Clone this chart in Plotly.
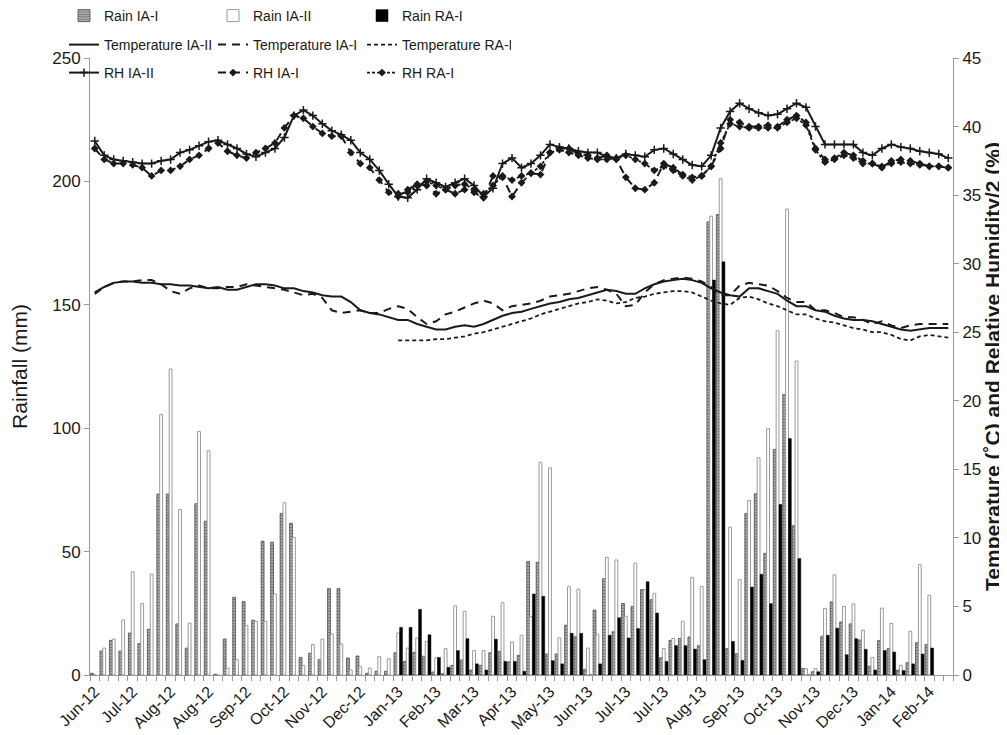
import plotly.graph_objects as go

# ---------------- data ----------------
month_labels = ["Jun-12", "Jul-12", "Aug-12", "Aug-12", "Sep-12", "Oct-12", "Nov-12", "Dec-12",
                "Jan-13", "Feb-13", "Mar-13", "Apr-13", "May-13", "Jun-13", "Jul-13", "Jul-13",
                "Aug-13", "Sep-13", "Oct-13", "Nov-13", "Dec-13", "Jan-14", "Feb-14"]
weeks = list(range(91))

rain_ia1 = [0.7, 9.7, 14.0, 9.7, 17.0, 12.7, 18.5, 73.3, 73.3, 20.7,
            10.9, 69.4, 62.3, 0.3, 14.6, 31.5, 29.7, 22.2, 54.2, 53.8,
            65.5, 61.5, 7.1, 8.8, 6.2, 35.0, 35.0, 6.9, 7.7, 0.7,
            1.5, 1.5, 9.0, 5.5, 9.2, 7.6, 1.2, 0.5, 3.9, 6.1,
            2.0, 3.9, 9.0, 9.6, 5.3, 8.0, 46.0, 45.7, 8.5, 8.5,
            20.2, 15.5, 2.3, 26.3, 39.0, 17.5, 29.0, 27.8, 34.6, 30.5,
            7.0, 14.0, 14.8, 15.4, 11.9, 183.6, 186.6, 10.7, 8.6, 65.4,
            73.4, 49.3, 91.4, 113.6, 60.5, 2.6, 1.3, 15.7, 29.6, 21.5,
            20.7, 14.2, 3.6, 13.9, 10.7, 2.0, 5.0, 13.1, 12.3, None, None]

rain_ia2 = [0, 10.9, 14.6, 22.3, 41.8, 29.0, 40.9, 105.5, 124.0, 67.0,
            21.0, 98.7, 90.9, 0, 2.8, 6.2, 20.1, 21.7, 21.7, 32.8,
            69.8, 55.8, 3.9, 12.3, 14.5, 16.6, 12.6, 2.0, 3.4, 2.8,
            7.4, 6.6, 17.0, 10.9, 15.0, 13.6, 6.9, 10.7, 28.0, 25.8,
            9.9, 9.9, 23.8, 29.3, 13.4, 16.1, 23.6, 86.2, 83.9, 15.0,
            35.8, 34.8, 10.9, 16.5, 47.7, 46.6, 23.8, 45.3, 34.6, 33.1,
            10.7, 14.8, 21.8, 39.6, 35.9, 185.9, 201.1, 59.9, 38.6, 70.7,
            88.0, 99.8, 139.5, 188.8, 127.2, 2.6, 2.6, 26.9, 40.6, 27.8,
            28.8, 18.2, 7.1, 27.1, 20.9, 3.9, 17.7, 44.7, 32.3, None, None]

rain_ra1 = [None] * 32 + [
            19.3, 19.3, 26.6, 16.3, 7.1, 3.1, 9.9, 14.7,
            4.5, 2.0, 14.5, 5.5, 5.5, 1.5, 32.8, 31.9, 5.8, 4.5,
            16.9, 16.9, 0, 4.5, 16.1, 23.2, 15.0, 18.8, 37.8, 25.1,
            5.5, 11.9, 11.9, 10.5, 6.2, 160.0, 167.4, 13.6, 5.9, 35.6,
            40.8, 28.9, 69.1, 95.8, 47.2, 0, 1.3, 16.1, 19.0, 8.2,
            14.7, 10.4, 2.0, 9.9, 9.3, 1.8, 4.5, 8.5, 10.9, None, None]

temp_ia2 = [27.9, 28.3, 28.6, 28.7, 28.7, 28.6, 28.6, 28.5, 28.5, 28.4,
            28.4, 28.3, 28.2, 28.3, 28.1, 28.1, 28.3, 28.5, 28.5, 28.4,
            28.2, 28.2, 28.0, 27.9, 27.7, 27.6, 27.6, 27.2, 26.6, 26.4,
            26.3, 26.1, 25.9, 25.9, 25.6, 25.4, 25.2, 25.2, 25.4, 25.5,
            25.4, 25.6, 25.9, 26.2, 26.4, 26.5, 26.7, 26.9, 27.1, 27.2,
            27.4, 27.5, 27.7, 27.9, 28.1, 28.0, 27.8, 27.8, 28.2, 28.5,
            28.7, 28.8, 28.9, 28.8, 28.6, 28.2, 27.9, 27.7, 27.6, 28.2,
            28.2, 28.0, 27.8, 27.3, 26.9, 26.9, 26.6, 26.5, 26.2, 26.0,
            25.9, 25.9, 25.8, 25.6, 25.4, 25.2, 25.1, 25.2, 25.3, 25.3, 25.3]

temp_ia1 = [27.8, 28.3, 28.6, 28.7, 28.7, 28.8, 28.8, 28.5, 28.0, 27.8,
            28.2, 28.4, 28.2, 28.2, 28.3, 28.3, 28.5, 28.4, 28.3, 28.2,
            28.1, 27.9, 27.7, 27.8, 27.5, 26.6, 26.4, 26.5, 26.6, 26.4,
            26.4, 26.7, 26.9, 26.7, 26.1, 25.6, 25.8, 26.3, 26.5, 26.8,
            27.1, 27.3, 27.1, 26.6, 26.9, 27.0, 27.1, 27.3, 27.6, 27.7,
            27.8, 28.0, 28.2, 28.3, 28.1, 27.8, 26.9, 27.0, 27.9, 28.5,
            28.8, 28.9, 29.0, 28.9, 28.7, 28.3, 27.7, 27.7, 28.4, 28.6,
            28.5, 28.4, 28.0, 27.5, 27.2, 27.2, 26.6, 26.6, 26.4, 26.1,
            26.1, 25.9, 25.6, 25.8, 25.5, 25.3, 25.5, 25.6, 25.6, 25.6, 25.6]

temp_ra1 = [None] * 32 + [
            24.4, 24.4, 24.4, 24.4, 24.5, 24.5, 24.6, 24.7,
            24.9, 25.0, 25.2, 25.4, 25.6, 25.8, 26.0, 26.3, 26.5, 26.7,
            26.9, 27.1, 27.2, 27.4, 27.3, 27.1, 27.2, 27.5, 27.6, 27.8,
            27.9, 28.0, 28.0, 27.9, 27.6, 27.3, 27.1, 27.0, 27.5, 27.6,
            27.4, 27.1, 26.9, 26.6, 26.3, 26.3, 26.0, 25.8, 25.7, 25.5,
            25.3, 25.2, 25.0, 25.0, 24.8, 24.5, 24.4, 24.7, 24.8, 24.7, 24.6]

rh_ia2 = [38.95, 37.9, 37.6, 37.5, 37.4, 37.3, 37.3, 37.5, 37.6, 38.1,
          38.3, 38.6, 38.9, 39.0, 38.7, 38.4, 38.0, 37.8, 38.1, 38.4,
          39.2, 40.8, 41.2, 40.8, 40.2, 39.7, 39.4, 39.0, 38.1, 37.6,
          36.8, 35.8, 34.9, 34.8, 35.4, 36.2, 35.9, 35.6, 35.9, 36.2,
          35.7, 34.9, 35.5, 37.3, 37.7, 37.0, 37.3, 37.9, 38.7, 38.5,
          38.4, 38.2, 38.1, 38.1, 37.8, 37.7, 38.0, 37.9, 37.8, 38.3,
          38.4, 38.0, 37.6, 37.2, 37.1, 37.9, 39.9, 41.1, 41.7, 41.3,
          41.0, 40.8, 40.9, 41.3, 41.7, 41.4, 40.0, 38.7, 38.7, 38.7,
          38.7, 38.1, 37.9, 38.4, 38.7, 38.5, 38.4, 38.2, 38.1, 38.0, 37.7]

rh_ia1 = [38.4, 37.6, 37.3, 37.3, 37.2, 37.0, 36.4, 36.8, 36.8, 37.1,
          37.6, 37.9, 38.4, 38.8, 38.2, 37.9, 37.7, 38.1, 38.4, 38.8,
          39.9, 40.8, 40.6, 40.0, 39.5, 39.3, 39.3, 38.1, 37.3, 37.0,
          36.1, 35.2, 34.9, 35.4, 35.8, 35.7, 35.1, 35.4, 35.1, 35.4,
          35.2, 34.8, 36.4, 36.3, 34.9, 35.9, 36.6, 36.5, 38.1, 38.4,
          38.4, 38.0, 37.9, 37.7, 37.9, 37.6, 36.3, 35.5, 35.4, 35.9,
          37.3, 37.0, 36.5, 36.3, 36.4, 37.1, 38.4, 40.5, 40.3, 40.0,
          40.0, 40.1, 40.0, 40.5, 40.8, 40.3, 38.4, 37.6, 37.7, 38.1,
          37.9, 37.5, 37.3, 37.0, 37.5, 37.6, 37.5, 37.3, 37.1, 37.1, 37.0]

rh_ra1 = [None] * 32 + [
          35.1, 35.2, 35.7, 36.0, 35.7, 35.4, 35.7, 35.8,
          35.4, 35.1, 35.7, 36.4, 36.1, 36.4, 36.6, 37.1, 38.1, 38.3,
          38.1, 37.9, 37.7, 37.6, 37.6, 37.7, 37.9, 37.6, 37.3, 36.8,
          37.1, 36.8, 36.4, 36.1, 36.4, 37.1, 38.8, 40.2, 40.0, 39.9,
          39.9, 39.9, 39.9, 40.3, 40.6, 40.1, 38.3, 37.4, 37.6, 37.9,
          37.7, 37.3, 37.3, 37.1, 37.3, 37.4, 37.3, 37.2, 37.1, 37.1, 37.0]

# ---------------- figure ----------------
INK = "#1a1a1a"
AXC = "#9a9a9a"
SANS = "Liberation Sans, Arial, sans-serif"

fig = go.Figure()

fig.add_trace(go.Bar(x=weeks, y=rain_ia1, name="Rain IA-I", legend="legend",
                     marker=dict(color="#ffffff",
                                 pattern=dict(shape="-", fgcolor="#3a3a3a", bgcolor="#b8b8b8",
                                              size=3, solidity=0.5),
                                 line=dict(color="#4a4a4a", width=0.8))))
fig.add_trace(go.Bar(x=weeks, y=rain_ia2, name="Rain IA-II", legend="legend",
                     marker=dict(color="#ffffff", line=dict(color="#9a9a9a", width=1))))
fig.add_trace(go.Bar(x=weeks, y=rain_ra1, name="Rain RA-I", legend="legend",
                     marker=dict(color="#000000", line=dict(color="#000000", width=0.5))))

fig.add_trace(go.Scatter(x=weeks, y=temp_ia2, name="Temperature IA-II", yaxis="y2",
                         legend="legend2", mode="lines",
                         line=dict(color=INK, width=2)))
fig.add_trace(go.Scatter(x=weeks, y=temp_ia1, name="Temperature IA-I", yaxis="y2",
                         legend="legend2", mode="lines",
                         line=dict(color=INK, width=2, dash="8px,6px")))
fig.add_trace(go.Scatter(x=weeks, y=temp_ra1, name="Temperature RA-I", yaxis="y2",
                         legend="legend2", mode="lines",
                         line=dict(color=INK, width=1.8, dash="4px,3px")))

fig.add_trace(go.Scatter(x=weeks, y=rh_ia2, name="RH IA-II", yaxis="y2",
                         legend="legend3", mode="lines+markers",
                         line=dict(color=INK, width=2),
                         marker=dict(symbol="cross-thin", size=6,
                                     line=dict(color=INK, width=1.5))))
fig.add_trace(go.Scatter(x=weeks, y=rh_ia1, name="RH IA-I", yaxis="y2",
                         legend="legend3", mode="lines+markers",
                         line=dict(color=INK, width=2, dash="8px,6px"),
                         marker=dict(symbol="diamond", size=6, color=INK)))
fig.add_trace(go.Scatter(x=weeks, y=rh_ra1, name="RH RA-I", yaxis="y2",
                         legend="legend3", mode="lines+markers",
                         line=dict(color=INK, width=1.8, dash="3px,2px"),
                         marker=dict(symbol="diamond", size=6, color=INK)))

label_pos = [weeks[i] for i in range(0, 4 * len(month_labels), 4)]

leg_common = dict(orientation="h", xref="container", yref="container",
                  xanchor="left", yanchor="middle", entrywidth=104,
                  entrywidthmode="pixels", itemwidth=30,
                  font=dict(family=SANS, size=14, color=INK),
                  bgcolor="rgba(0,0,0,0)", borderwidth=0, tracegroupgap=0)

fig.update_layout(
    width=1007, height=735,
    margin=dict(l=82, r=62, t=50, b=68, autoexpand=False),
    paper_bgcolor="white", plot_bgcolor="white",
    font=dict(family=SANS, size=16, color=INK),
    barmode="group", bargap=0.1, bargroupgap=0,
    legend=dict(x=56 / 1007, y=1 - 8 / 735, **leg_common),
    legend2=dict(x=56 / 1007, y=1 - 37 / 735, **leg_common),
    legend3=dict(x=56 / 1007, y=1 - 65 / 735, **leg_common),
    xaxis=dict(range=[-0.5, 90.5], tickmode="array", tickvals=label_pos,
               ticktext=month_labels, tickangle=-45, ticks="",
               tickfont=dict(size=16, family=SANS, color=INK),
               showline=True, linecolor=AXC, linewidth=1,
               showgrid=False, zeroline=False,
               minor=dict(ticks="outside", tickmode="linear", tick0=-0.5, dtick=1,
                          ticklen=5, tickcolor=AXC, tickwidth=1, showgrid=False)),
    yaxis=dict(range=[0, 250], dtick=50, ticks="outside", ticklen=5, tickcolor=AXC,
               showline=True, linecolor=AXC, linewidth=1, showgrid=False, zeroline=False,
               tickfont=dict(size=17, family=SANS, color=INK),
               title=dict(text="Rainfall (mm)", font=dict(size=21, family=SANS, color=INK),
                          standoff=18)),
    yaxis2=dict(range=[0, 45], dtick=5, overlaying="y", side="right",
                ticks="outside", ticklen=5, tickcolor=AXC,
                showline=True, linecolor=AXC, linewidth=1, showgrid=False, zeroline=False,
                tickfont=dict(size=17, family=SANS, color=INK),
                title=dict(text="<b>Temperature (˚C) and Relative Humidity/2 (%)</b>",
                           font=dict(size=21, family=SANS, color=INK), standoff=3)),
)

fig.write_html("out.html")
